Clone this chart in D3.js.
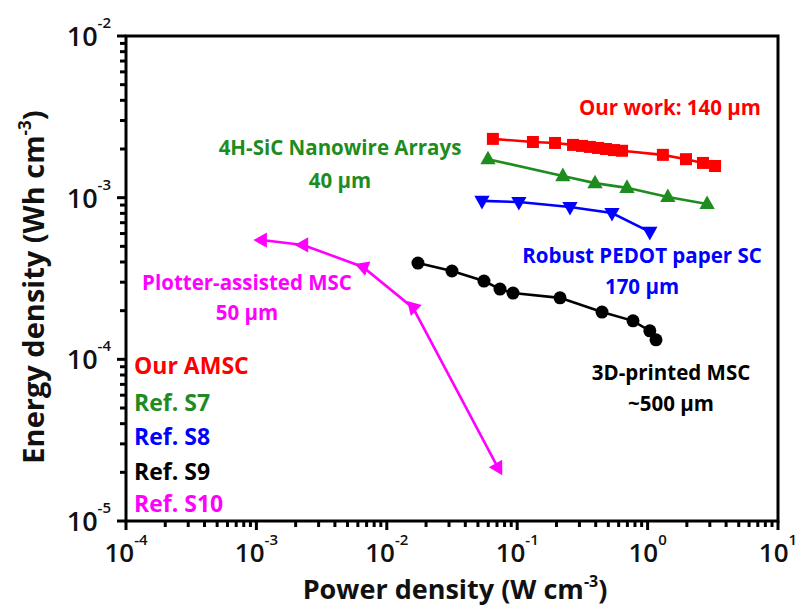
<!DOCTYPE html>
<html><head><meta charset="utf-8">
<script src="https://cdn.jsdelivr.net/npm/d3@7"></script>
<style>body{margin:0;background:#fff}svg{display:block}text{font-family:"Open Sans",Lato,sans-serif}</style>
</head><body><svg id="c" width="801" height="608"></svg>
<script>
// ---- data ----
const ourX = [0.0651,0.132,0.195,0.268,0.314,0.361,0.417,0.480,0.552,0.637,1.31,1.97,2.66,3.29];
const ourY = [0.00231,0.00221,0.00218,0.00212,0.00209,0.00206,0.00203,0.00200,0.00197,0.00195,0.00184,0.00173,0.00164,0.00157];
const s7X = [0.0597,0.224,0.395,0.695,1.43,2.86];
const s7Y = [0.00173,0.00136,0.00123,0.00115,0.00101,0.000914];
const s8X = [0.0537,0.103,0.254,0.533,1.04];
const s8Y = [0.000955,0.000940,0.000875,0.000804,0.000614];
const s9X = [0.01733,0.0316,0.0556,0.0738,0.0929,0.213,0.447,0.773,1.04,1.16];
const s9Y = [0.000394,0.000352,0.000305,0.000272,0.000257,0.000240,0.000196,0.000173,0.000150,0.000132];
const s10X = [0.00110,0.00228,0.00656,0.0159,0.0713];
const s10Y = [0.000547,0.000510,0.000373,0.000208,0.0000213];
const xTickExps = [-4,-3,-2,-1,0,1];
const yTickExps = [-5,-4,-3,-2];
const legendLabels = ["Our AMSC","Ref. S7","Ref. S8","Ref. S9","Ref. S10"];

// ---- layout / style ----
const L=126,R=778,T=36,B=521;
const svg=d3.select("#c");
const x=d3.scaleLog().domain([1e-4,10]).range([L,R]);
const y=d3.scaleLog().domain([1e-5,1e-2]).range([B,T]);

const series=[
 {X:ourX,Y:ourY,color:"#ff0000",sym:"square"},
 {X:s7X,Y:s7Y,color:"#1f8c1f",sym:"up"},
 {X:s8X,Y:s8Y,color:"#0000ff",sym:"down"},
 {X:s9X,Y:s9Y,color:"#000000",sym:"circle"},
 {X:s10X,Y:s10Y,color:"#ff00ff",sym:"left"}
];
const s10Angles=[180,180,200,105,60];

function minorVals(lo,hi){const v=[];for(let e=lo;e<hi;e++)for(let m=1;m<=9;m++)v.push(m*Math.pow(10,e));v.push(Math.pow(10,hi));return v;}
const xt=minorVals(-4,1), yt=minorVals(-5,-2);
const isMajor=v=>Math.abs(Math.log10(v)-Math.round(Math.log10(v)))<1e-9;

const g=svg.append("g");
g.selectAll(".xt").data(xt).enter().append("line")
 .attr("x1",d=>x(d)).attr("x2",d=>x(d)).attr("y1",B).attr("y2",d=>B+(isMajor(d)?9:6))
 .attr("stroke","#000").attr("stroke-width",3);
g.selectAll(".yt").data(yt).enter().append("line")
 .attr("y1",d=>y(d)).attr("y2",d=>y(d)).attr("x1",L).attr("x2",d=>L-(isMajor(d)?9:6))
 .attr("stroke","#000").attr("stroke-width",3);
g.append("rect").attr("x",L).attr("y",T).attr("width",R-L).attr("height",B-T)
 .attr("fill","none").attr("stroke","#000").attr("stroke-width",3);

xTickExps.forEach(e=>{
 const t=g.append("text").attr("x",x(Math.pow(10,e))).attr("y",562).attr("text-anchor","middle")
  .attr("font-size",26).attr("font-weight","600").attr("fill","#111");
 t.append("tspan").text("10");
 t.append("tspan").attr("font-size",15).attr("dy",-17).text(e);
});
yTickExps.forEach(e=>{
 const t=g.append("text").attr("x",111).attr("y",y(Math.pow(10,e))+10).attr("text-anchor","end")
  .attr("font-size",27).attr("font-weight","600").attr("fill","#111");
 t.append("tspan").text("10");
 t.append("tspan").attr("font-size",15).attr("dy",-18).text(e);
});

const xt2=g.append("text").attr("x",455).attr("y",599).attr("text-anchor","middle")
 .attr("font-size",27).attr("font-weight","bold").attr("fill","#111");
xt2.append("tspan").text("Power density (W cm");
xt2.append("tspan").attr("font-size",16).attr("dy",-12).text("-3");
xt2.append("tspan").attr("dy",12).text(")");
const yt2=g.append("text").attr("transform","translate(44,287) rotate(-90)").attr("text-anchor","middle")
 .attr("font-size",29).attr("font-weight","bold").attr("fill","#111");
yt2.append("tspan").text("Energy density (Wh cm");
yt2.append("tspan").attr("font-size",17).attr("dy",-13).text("-3");
yt2.append("tspan").attr("dy",13).text(")");

const line=d3.line().x(d=>x(d[0])).y(d=>y(d[1]));
function tri(r){const h=r;return `M${h},0 L${-h*0.6},${-h*0.9} L${-h*0.6},${h*0.9} Z`;}
series.forEach((s,si)=>{
 const pts=s.X.map((v,i)=>[v,s.Y[i]]);
 g.append("path").attr("d",line(pts)).attr("fill","none").attr("stroke",s.color).attr("stroke-width",2.6);
 const m=g.append("g").selectAll("path").data(pts).enter();
 if(s.sym==="square"){
  m.append("rect").attr("x",d=>x(d[0])-6).attr("y",d=>y(d[1])-6).attr("width",12).attr("height",12).attr("fill",s.color);
 } else if(s.sym==="circle"){
  m.append("circle").attr("cx",d=>x(d[0])).attr("cy",d=>y(d[1])).attr("r",6.5).attr("fill",s.color);
 } else {
  m.append("path").attr("d",tri(8.5)).attr("fill",s.color)
   .attr("transform",(d,i)=>{
     const a = s.sym==="up"?-90: s.sym==="down"?90: s10Angles[i];
     return `translate(${x(d[0])},${y(d[1])}) rotate(${a})`;});
 }
});

const labels=[
 {t:"Our work: 140 μm",x:670,y:115,c:"#ff0000"},
 {t:"4H-SiC Nanowire Arrays",x:340,y:155,c:"#1f8c1f"},
 {t:"40 μm",x:340,y:188,c:"#1f8c1f"},
 {t:"Robust PEDOT paper SC",x:642,y:263,c:"#0000ff"},
 {t:"170 μm",x:642,y:294,c:"#0000ff"},
 {t:"Plotter-assisted MSC",x:247,y:290,c:"#ff00ff"},
 {t:"50 μm",x:247,y:320,c:"#ff00ff"},
 {t:"3D-printed MSC",x:671,y:380,c:"#000000"},
 {t:"~500 μm",x:671,y:411,c:"#000000"}
];
labels.forEach(l=>g.append("text").attr("x",l.x).attr("y",l.y).attr("text-anchor","middle")
 .attr("font-size",20.5).attr("font-weight","bold").attr("fill",l.c).text(l.t));

const legY=[374,411,445,480,512];
legendLabels.forEach((t,i)=>g.append("text").attr("x",134).attr("y",legY[i])
 .attr("font-size",23).attr("font-weight","bold").attr("fill",series[i].color).text(t));
</script></body></html>
